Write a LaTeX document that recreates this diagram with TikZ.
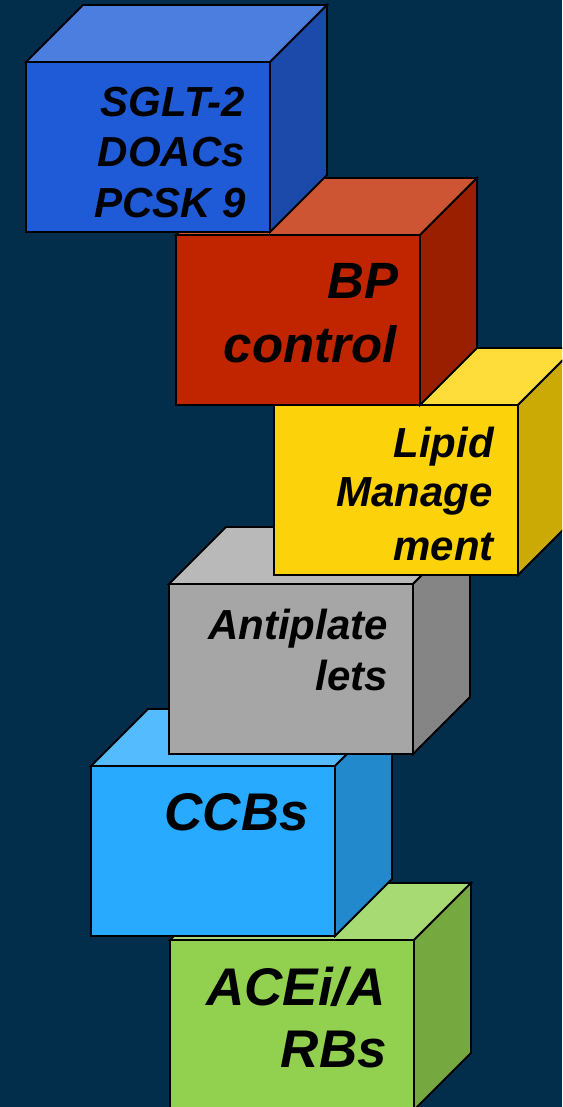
\documentclass[tikz,border=0pt]{standalone}
\usepackage{fontspec}
\setmainfont{Liberation Sans}

% palette: front / top / side of each block
\definecolor{bg}{HTML}{022D4B}
\definecolor{blueF}{HTML}{1F5BD6}\definecolor{blueT}{HTML}{4C7EE0}\definecolor{blueS}{HTML}{1C4AAA}
\definecolor{redF}{HTML}{C02500}\definecolor{redT}{HTML}{CD5533}\definecolor{redS}{HTML}{9A1F00}
\definecolor{yelF}{HTML}{FCD30B}\definecolor{yelT}{HTML}{FEDC3A}\definecolor{yelS}{HTML}{CBAA06}
\definecolor{grayF}{HTML}{A6A6A6}\definecolor{grayT}{HTML}{B9B9B9}\definecolor{grayS}{HTML}{858585}
\definecolor{cyanF}{HTML}{27AAFF}\definecolor{cyanT}{HTML}{55BBFF}\definecolor{cyanS}{HTML}{2189CC}
\definecolor{grnF}{HTML}{92D050}\definecolor{grnT}{HTML}{A8DA74}\definecolor{grnS}{HTML}{76A840}

\tikzset{
  face/.style={draw=black, line width=1.8pt, inner sep=0pt, outer sep=0pt,
    minimum width=244pt, minimum height=170pt, anchor=north west},
  facet/.style={draw=black, line width=1.8pt, line join=miter},
  txt/.style={anchor=base east, inner sep=0pt, text=black,
    font=\bfseries\itshape\fontsize{42}{50}\selectfont},
  bigtxt/.style={txt, font=\bfseries\itshape\fontsize{51}{60}\selectfont},
  hugetxt/.style={txt, font=\bfseries\itshape\fontsize{53}{62}\selectfont},
}

% block: name, x, y (top-left of front face), front, top, side colours
\newcommand\drawblock[6]{%
  \node[face, fill=#4] (#1) at (#2,#3) {};
  \filldraw[facet, fill=#5] (#1.north west) -- ([shift={(57,-57)}]#1.north west)
    -- ([shift={(57,-57)}]#1.north east) -- (#1.north east) -- cycle;
  \filldraw[facet, fill=#6] (#1.north east) -- ([shift={(57,-57)}]#1.north east)
    -- ([shift={(57,-57)}]#1.south east) -- (#1.south east) -- cycle;
}

\begin{document}
\begin{tikzpicture}[x=1pt, y=-1pt]
  \useasboundingbox (0,0) rectangle (562,1107);
  \fill[bg] (0,0) rectangle (562,1107);
  \begin{scope}
    \clip (0,0) rectangle (562,1107);
    % stacked from the bottom up, so each block rests over the one below
    \drawblock{acei}{170}{940}{grnF}{grnT}{grnS}
    \drawblock{ccb}{91}{766}{cyanF}{cyanT}{cyanS}
    \drawblock{antipl}{169}{584}{grayF}{grayT}{grayS}
    \drawblock{lipid}{274}{405}{yelF}{yelT}{yelS}
    \drawblock{bp}{176}{235}{redF}{redT}{redS}
    \drawblock{sglt}{26}{62}{blueF}{blueT}{blueS}

    \node[txt] (sgltA) at (245,117) {SGLT-2};
    \node[txt] (sgltB) at (245,167) {DOACs};
    \node[txt] (sgltC) at (246,218) {PCSK 9};

    \node[bigtxt] (bpA) at (399,298) {BP};
    \node[bigtxt] (bpB) at (397,362) {control};

    \node[txt] (lipA) at (494,457) {Lipid};
    \node[txt] (lipB) at (493,506) {Manage};
    \node[txt] (lipC) at (494,560) {ment};

    \node[txt] (antA) at (388,639) {Antiplate};
    \node[txt] (antB) at (388,690) {lets};

    \node[hugetxt] (ccbA) at (309,830) {CCBs};

    \node[hugetxt] (aceA) at (386,1005) {ACEi/A};
    \node[hugetxt] (aceB) at (387,1067) {RBs};
  \end{scope}
\end{tikzpicture}
\end{document}
